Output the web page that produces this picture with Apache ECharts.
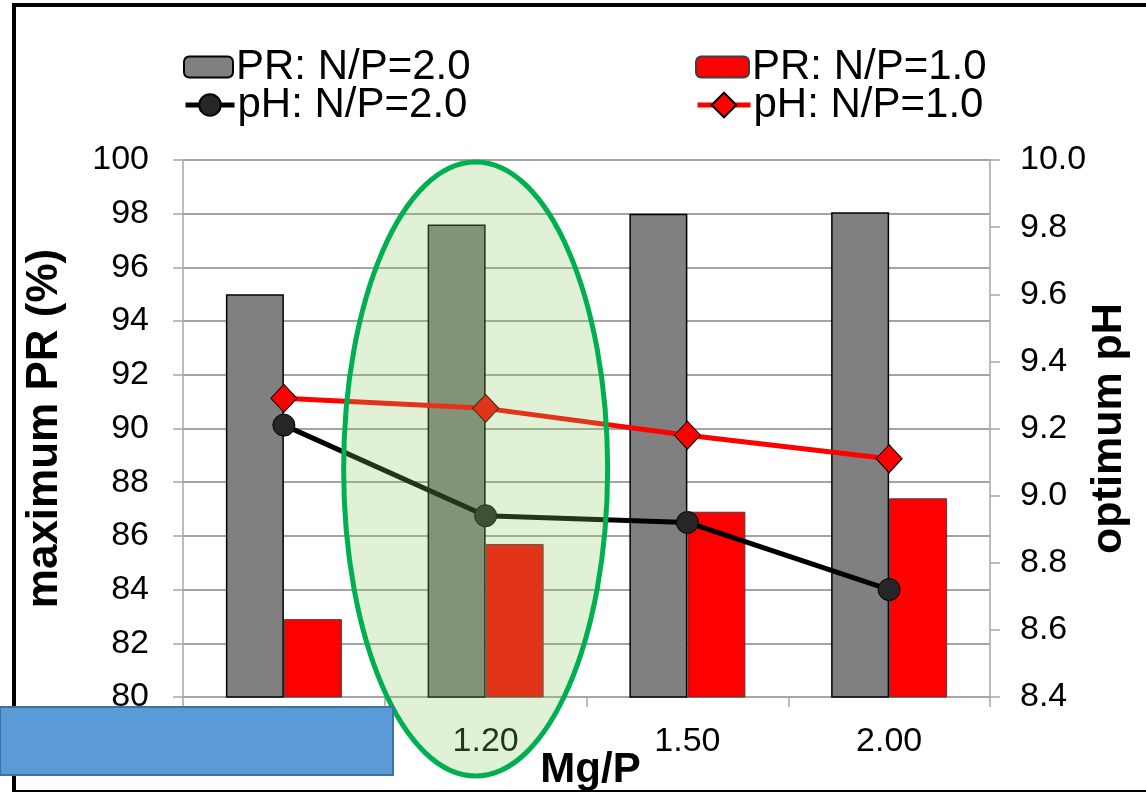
<!DOCTYPE html>
<html>
<head>
<meta charset="utf-8">
<title>Maximum PR and optimum pH vs Mg/P</title>
<script src="https://cdn.jsdelivr.net/npm/echarts@6/dist/echarts.min.js"></script>
<style>
  html, body { margin: 0; padding: 0; background: #ffffff; }
  #chart { width: 1146px; height: 795px; }
</style>
</head>
<body>
<div id="chart"></div>
<script>
// Mg/P molar ratios (x categories)
const categories = ['1.00', '1.20', '1.50', '2.00'];
// Maximum phosphate recovery (%) at two N/P ratios
const prNP20 = [95.0, 97.6, 98.0, 98.05];
const prNP10 = [82.9, 85.7, 86.9, 87.4];
// Optimum pH at the same ratios
const phNP20 = [9.21, 8.94, 8.92, 8.72];
const phNP10 = [9.29, 9.26, 9.18, 9.11];
// Axis tick ranges
const prTicks = { min: 80, max: 100, step: 2 };
const phTicks = { min: 8.4, max: 10.0, step: 0.2 };
const names = {
  pr20: 'PR: N/P=2.0', pr10: 'PR: N/P=1.0',
  ph20: 'pH: N/P=2.0', ph10: 'pH: N/P=1.0'
};

const FONT = "'Liberation Sans', Arial, sans-serif";
const chart = echarts.init(document.getElementById('chart'), null, { renderer: 'canvas' });

function legendAt(name, left, top, w, h) {
  return {
    data: [name], left: left, top: top, orient: 'horizontal',
    itemWidth: w, itemHeight: h, itemGap: 0, padding: 0,
    selectedMode: false,
    lineStyle: { width: 5 },
    textStyle: { fontFamily: FONT, fontSize: 42, color: '#000', padding: [0, 0, 0, -2] }
  };
}

const option = {
  backgroundColor: '#ffffff',
  animation: false,
  textStyle: { fontFamily: FONT },
  legend: [
    legendAt(names.pr20, 183, 46, 49, 21),
    legendAt(names.ph20, 183, 84, 49, 27),
    legendAt(names.pr10, 695, 46, 53, 21),
    legendAt(names.ph10, 695, 84, 53, 31)
  ],
  grid: { left: 183, right: 156, top: 160, bottom: 98, containLabel: false, outerBoundsMode: 'none' },
  xAxis: {
    type: 'category',
    data: categories,
    name: 'Mg/P',
    nameLocation: 'middle',
    nameGap: 52,
    nameMoveOverlap: false,
    nameTextStyle: { fontFamily: FONT, fontSize: 42, fontWeight: 'bold', color: '#000', padding: [0, 0, 0, 8] },
    axisLine: { lineStyle: { color: '#a6a6a6', width: 1.5 } },
    axisTick: { show: true, length: 10, interval: 0, lineStyle: { color: '#a6a6a6', width: 1.5 } },
    axisLabel: { fontSize: 34, color: '#000', margin: 28, interval: 0 },
    splitLine: { show: false }
  },
  yAxis: [
    {
      type: 'value',
      min: prTicks.min, max: prTicks.max, interval: prTicks.step,
      name: 'maximum PR (%)',
      nameLocation: 'middle',
      nameRotate: 90,
      nameGap: 116,
      nameMoveOverlap: false,
      nameTextStyle: { fontFamily: FONT, fontSize: 44, fontWeight: 'bold', color: '#000' },
      axisLine: { show: true, lineStyle: { color: '#a6a6a6', width: 1.5 } },
      axisTick: { show: true, length: 10, lineStyle: { color: '#a6a6a6', width: 1.5 } },
      axisLabel: { fontSize: 34, color: '#000', margin: 34 },
      splitLine: { show: true, lineStyle: { color: '#868686', width: 1.5 } }
    },
    {
      type: 'value',
      min: phTicks.min, max: phTicks.max, interval: phTicks.step,
      name: 'optimum pH',
      nameLocation: 'middle',
      nameRotate: 90,
      nameGap: 98,
      nameMoveOverlap: false,
      nameTextStyle: { fontFamily: FONT, fontSize: 43, fontWeight: 'bold', color: '#000' },
      axisLine: { show: true, lineStyle: { color: '#a6a6a6', width: 1.5 } },
      axisTick: { show: true, length: 10, lineStyle: { color: '#a6a6a6', width: 1.5 } },
      axisLabel: { fontSize: 34, color: '#000', margin: 30, formatter: v => v.toFixed(1) },
      splitLine: { show: false }
    }
  ],
  series: [
    {
      name: names.pr20, type: 'bar', data: prNP20, yAxisIndex: 0,
      barWidth: 58, barGap: '0%',
      itemStyle: { color: '#808080', borderColor: '#000000', borderWidth: 1.5 }
    },
    {
      name: names.pr10, type: 'bar', data: prNP10, yAxisIndex: 0,
      barWidth: 58, barGap: '0%',
      itemStyle: { color: '#ff0000', borderColor: '#404040', borderWidth: 1 }
    },
    {
      name: names.ph20, type: 'line', data: phNP20, yAxisIndex: 1,
      symbol: 'circle', symbolSize: 22,
      lineStyle: { color: '#000000', width: 5 },
      itemStyle: { color: '#262626', borderColor: '#000000', borderWidth: 1 }
    },
    {
      name: names.ph10, type: 'line', data: phNP10, yAxisIndex: 1,
      symbol: 'diamond', symbolSize: [26, 28],
      lineStyle: { color: '#ff0000', width: 5 },
      itemStyle: { color: '#ff0000', borderColor: '#000000', borderWidth: 1 }
    }
  ]
};
chart.setOption(option);

// Highlight ellipse around the Mg/P = 1.20 group, a cover box, and the outer frame
const cx = chart.convertToPixel({ xAxisIndex: 0 }, '1.20') - 10;
chart.setOption({
  graphic: [
    {
      type: 'ellipse', z: 100,
      shape: { cx: cx, cy: 469, rx: 132, ry: 307 },
      style: { fill: 'rgba(140, 200, 95, 0.26)', stroke: '#00b050', lineWidth: 5 }
    },
    {
      type: 'rect', z: 110,
      shape: { x: 0, y: 707, width: 393, height: 68 },
      style: { fill: '#5b9bd5', stroke: '#41719c', lineWidth: 2 }
    },
    {
      type: 'line', z: 105,
      shape: { x1: 12, y1: 5, x2: 1146, y2: 5 },
      style: { stroke: '#000', lineWidth: 4 }
    },
    {
      type: 'line', z: 105,
      shape: { x1: 14, y1: 3, x2: 14, y2: 792 },
      style: { stroke: '#000', lineWidth: 4 }
    },
    {
      type: 'line', z: 105,
      shape: { x1: 12, y1: 791, x2: 1146, y2: 791 },
      style: { stroke: '#000', lineWidth: 2 }
    }
  ]
});
</script>
</body>
</html>
